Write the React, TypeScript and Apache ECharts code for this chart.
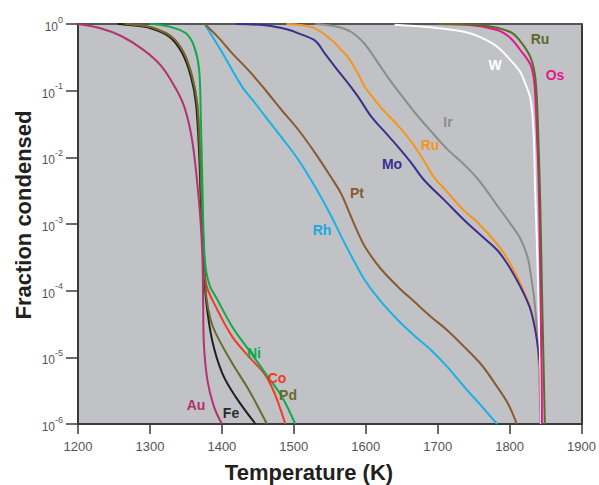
import React, { useEffect, useRef } from "react";
import * as echarts from "echarts";

const FONT = '"Liberation Sans", Arial, Helvetica, sans-serif';

// x-axis tick values (K) and y-axis exponents (log10 of fraction condensed)
const xTicks = [1200, 1300, 1400, 1500, 1600, 1700, 1800, 1900];
const yExponents = [-6, -5, -4, -3, -2, -1, 0];

// Each curve: [temperature K, log10(fraction condensed)]
const au: [number, number][] = [[1200,0],[1230,-0.06],[1260,-0.18],[1290,-0.38],[1315,-0.62],[1335,-0.95],[1348,-1.25],[1358,-1.7],[1365,-2.3],[1370,-2.9],[1373,-3.5],[1374,-4.2],[1375,-4.8],[1380,-5.35],[1389,-5.74],[1400,-6]];
const fe: [number, number][] = [[1255,0],[1275,-0.02],[1300,-0.06],[1327,-0.19],[1345,-0.44],[1357,-0.79],[1364,-1.19],[1368.4,-1.94],[1370.8,-2.69],[1373,-3.19],[1375.3,-3.69],[1378,-4.14],[1386.4,-4.74],[1400.6,-5.24],[1419,-5.59],[1446.7,-6]];
const pd: [number, number][] = [[1265,0],[1285,-0.02],[1305,-0.06],[1330,-0.19],[1347,-0.43],[1358.5,-0.78],[1365.5,-1.18],[1369.5,-1.92],[1371.8,-2.67],[1374,-3.17],[1376,-3.67],[1378.5,-4.1],[1384,-4.42],[1391.5,-4.64],[1414.4,-5.09],[1437.5,-5.49],[1462.7,-6]];
const co: [number, number][] = [[1265,0],[1285,-0.02],[1305,-0.06],[1330,-0.19],[1347,-0.43],[1358.5,-0.78],[1365.5,-1.18],[1369.5,-1.92],[1371.8,-2.67],[1374,-3.17],[1376,-3.6],[1378.5,-3.92],[1391.5,-4.24],[1414.4,-4.69],[1437.5,-4.99],[1460.6,-5.27],[1474.4,-5.57],[1488.2,-6]];
const ni: [number, number][] = [[1300,0],[1313,-0.01],[1327,-0.04],[1350,-0.14],[1361.5,-0.34],[1368.4,-0.69],[1370.8,-1.44],[1373,-2.44],[1375,-3.3],[1378,-3.7],[1384,-3.95],[1391.5,-4.09],[1414.4,-4.54],[1437.5,-4.89],[1460.6,-5.24],[1483.5,-5.59],[1502,-6]];
const rh: [number, number][] = [[1376,0],[1400,-0.42],[1428,-0.94],[1445,-1.17],[1460.5,-1.39],[1483,-1.7],[1506.5,-2.04],[1530,-2.45],[1552.5,-2.89],[1566,-3.19],[1582,-3.52],[1598.6,-3.84],[1620,-4.15],[1644.6,-4.44],[1668,-4.68],[1690.6,-4.89],[1714,-5.15],[1736.7,-5.44],[1760,-5.72],[1782.6,-6]];
const pt: [number, number][] = [[1376,0],[1395,-0.2],[1414.4,-0.44],[1437.5,-0.7],[1460.5,-0.99],[1483,-1.29],[1506.5,-1.59],[1530,-1.94],[1552.5,-2.31],[1566,-2.55],[1578,-2.85],[1590,-3.15],[1600,-3.36],[1620,-3.66],[1644.6,-3.94],[1668,-4.17],[1690.6,-4.39],[1714,-4.6],[1736.7,-4.84],[1760,-5.1],[1782.6,-5.44],[1798,-5.7],[1810,-6]];
const mo: [number, number][] = [[1420,0],[1460,-0.02],[1490,-0.08],[1506.5,-0.14],[1529.5,-0.25],[1543,-0.44],[1560,-0.68],[1575.6,-0.89],[1590,-1.1],[1607.7,-1.39],[1625,-1.6],[1644.6,-1.84],[1663,-2.08],[1681,-2.34],[1710,-2.65],[1736.7,-2.94],[1760,-3.17],[1782.6,-3.39],[1797,-3.6],[1810,-3.84],[1820,-4.05],[1828.6,-4.27],[1834,-4.5],[1838,-4.74],[1841,-5.0],[1842.5,-5.2],[1843.5,-5.6],[1844,-6]];
const ruOrange: [number, number][] = [[1490,0],[1506.5,-0.01],[1530,-0.07],[1552.5,-0.24],[1566,-0.39],[1575.6,-0.5],[1589,-0.74],[1598.6,-0.94],[1612,-1.13],[1625,-1.3],[1644.6,-1.52],[1663,-1.76],[1681,-2.05],[1695,-2.3],[1710,-2.48],[1736.6,-2.8],[1755,-2.97],[1782.6,-3.3],[1797,-3.52],[1810,-3.78],[1820,-4.02],[1828.6,-4.25],[1838,-4.72],[1843,-5.5],[1844.5,-6]];
const ir: [number, number][] = [[1530,0],[1560,-0.04],[1580,-0.12],[1598.6,-0.3],[1615,-0.55],[1630.8,-0.8],[1644.6,-1.0],[1667.6,-1.32],[1690,-1.6],[1713.6,-1.88],[1736,-2.1],[1757,-2.34],[1782.6,-2.72],[1800,-2.98],[1815,-3.22],[1825,-3.5],[1830,-3.8],[1834,-4.1],[1838,-4.6],[1841,-5.2],[1843,-6]];
const w: [number, number][] = [[1640,-0.01],[1690,-0.05],[1736.6,-0.115],[1760,-0.2],[1782.6,-0.34],[1801,-0.54],[1814.8,-0.72],[1822,-0.9],[1828.6,-1.1],[1832,-1.4],[1834,-1.8],[1835.5,-2.5],[1838,-3.3],[1841,-4.5],[1843,-5.3],[1844,-6]];
const os: [number, number][] = [[1700,0],[1740,-0.01],[1782.6,-0.09],[1800,-0.2],[1814.8,-0.39],[1828.6,-0.6],[1833.3,-0.79],[1835.5,-1.04],[1837.9,-1.64],[1840.2,-2.3],[1842.4,-3.54],[1843.5,-4.5],[1844.5,-5.3],[1845,-6]];
const ruGreen: [number, number][] = [[1700,0],[1760,-0.02],[1801,-0.12],[1815,-0.26],[1828.6,-0.49],[1835,-0.75],[1838,-1.14],[1840.5,-1.9],[1842.5,-2.64],[1845,-4.0],[1847,-5.0],[1849,-6]];

const curves = [
  { name: "Ir", color: "#8c8c8e", data: ir },
  { name: "Co", color: "#ef3b24", data: co },
  { name: "Fe", color: "#231f20", data: fe },
  { name: "Pd", color: "#6b6b2b", data: pd },
  { name: "Ni", color: "#12a84c", data: ni },
  { name: "Au", color: "#b2336f", data: au },
  { name: "Rh", color: "#1ab0e8", data: rh },
  { name: "Pt", color: "#8a5a32", data: pt },
  { name: "Ru", color: "#f7941d", data: ruOrange },
  { name: "Mo", color: "#3b2f8e", data: mo },
  { name: "W", color: "#ffffff", data: w },
  { name: "Os", color: "#e6168c", data: os },
  { name: "Ru ", color: "#5d6a2a", data: ruGreen },
];

const labels = [
  { text: "Au", x: 196, y: 405, color: "#b0306e" },
  { text: "Fe", x: 231, y: 413, color: "#2b2b2b" },
  { text: "Pd", x: 288, y: 395, color: "#6b6b2b" },
  { text: "Co", x: 277, y: 378, color: "#ef3b24" },
  { text: "Ni", x: 254, y: 353, color: "#12a84c" },
  { text: "Rh", x: 322, y: 230, color: "#1aa9e0" },
  { text: "Pt", x: 357, y: 193, color: "#8a5a32" },
  { text: "Mo", x: 392, y: 164, color: "#3b2f8e" },
  { text: "Ru", x: 430, y: 145, color: "#f7941d" },
  { text: "Ir", x: 448, y: 122, color: "#8c8c8e" },
  { text: "W", x: 495, y: 65, color: "#ffffff" },
  { text: "Os", x: 555, y: 75, color: "#e6168c" },
  { text: "Ru", x: 540, y: 39, color: "#5d6a2a" },
];

export default function App() {
  const ref = useRef<HTMLDivElement>(null);
  useEffect(() => {
    if (!ref.current) return;
    const chart = echarts.init(ref.current, null, { renderer: "svg" });
    const axisCol = "#3a3a3a";
    chart.setOption({
      animation: false,
      grid: { left: 78, right: 13, top: 24, bottom: 61, show: true, backgroundColor: "#c1c2c5", borderWidth: 0 },
      xAxis: [
        {
          type: "value", min: xTicks[0], max: xTicks[xTicks.length - 1], interval: 100,
          axisLine: { show: true, onZero: false, lineStyle: { color: axisCol, width: 2 } },
          axisTick: { show: true, length: 10, lineStyle: { color: axisCol, width: 1.5 } },
          axisLabel: { fontSize: 13, color: "#555", margin: 16, fontFamily: FONT, formatter: (v: number) => String(v) },
          splitLine: { show: false },
        },
        {
          type: "value", position: "top", min: xTicks[0], max: xTicks[xTicks.length - 1],
          axisLine: { show: true, onZero: false, lineStyle: { color: "#555", width: 2 } },
          axisTick: { show: false }, axisLabel: { show: false }, splitLine: { show: false },
        },
      ],
      yAxis: [
        {
          type: "value", min: yExponents[0], max: yExponents[yExponents.length - 1], interval: 1,
          axisLine: { show: true, onZero: false, lineStyle: { color: axisCol, width: 2 } },
          axisTick: { show: true, length: 12, lineStyle: { color: axisCol, width: 1.5 } },
          axisLabel: {
            margin: 15,
            formatter: (v: number) => `{b|10}{s|${v}}`,
            rich: {
              b: { fontSize: 12, color: "#555", fontFamily: FONT, lineHeight: 18, verticalAlign: "bottom" },
              s: { fontSize: 9, color: "#555", fontFamily: FONT, lineHeight: 8, verticalAlign: "top" },
            },
          },
          splitLine: { show: false },
        },
        {
          type: "value", position: "right", min: yExponents[0], max: yExponents[yExponents.length - 1],
          axisLine: { show: true, onZero: false, lineStyle: { color: axisCol, width: 2 } },
          axisTick: { show: false }, axisLabel: { show: false }, splitLine: { show: false },
        },
      ],
      series: curves.map((c) => ({
        name: c.name,
        type: "line",
        xAxisIndex: 0,
        yAxisIndex: 0,
        data: c.data,
        showSymbol: false,
        symbol: "none",
        smooth: 0.35,
        lineStyle: { color: c.color, width: 2 },
        itemStyle: { color: c.color },
      })),
      graphic: [
        ...labels.map((l) => ({
          type: "text", x: l.x, y: l.y, z: 100,
          style: { text: l.text, fill: l.color, font: `bold 14px ${FONT}`, textAlign: "center", verticalAlign: "middle" },
        })),
        {
          type: "text", x: 23, y: 215, rotation: Math.PI / 2,
          style: { text: "Fraction condensed", fill: "#231f20", font: `bold 22px ${FONT}`, textAlign: "center", verticalAlign: "middle" },
        },
        {
          type: "text", x: 309, y: 472,
          style: { text: "Temperature (K)", fill: "#231f20", font: `bold 22px ${FONT}`, textAlign: "center", verticalAlign: "middle" },
        },
      ],
    });
    return () => chart.dispose();
  }, []);
  return <div ref={ref} style={{ position: "absolute", left: 0, top: 0, width: 599, height: 485 }} />;
}
